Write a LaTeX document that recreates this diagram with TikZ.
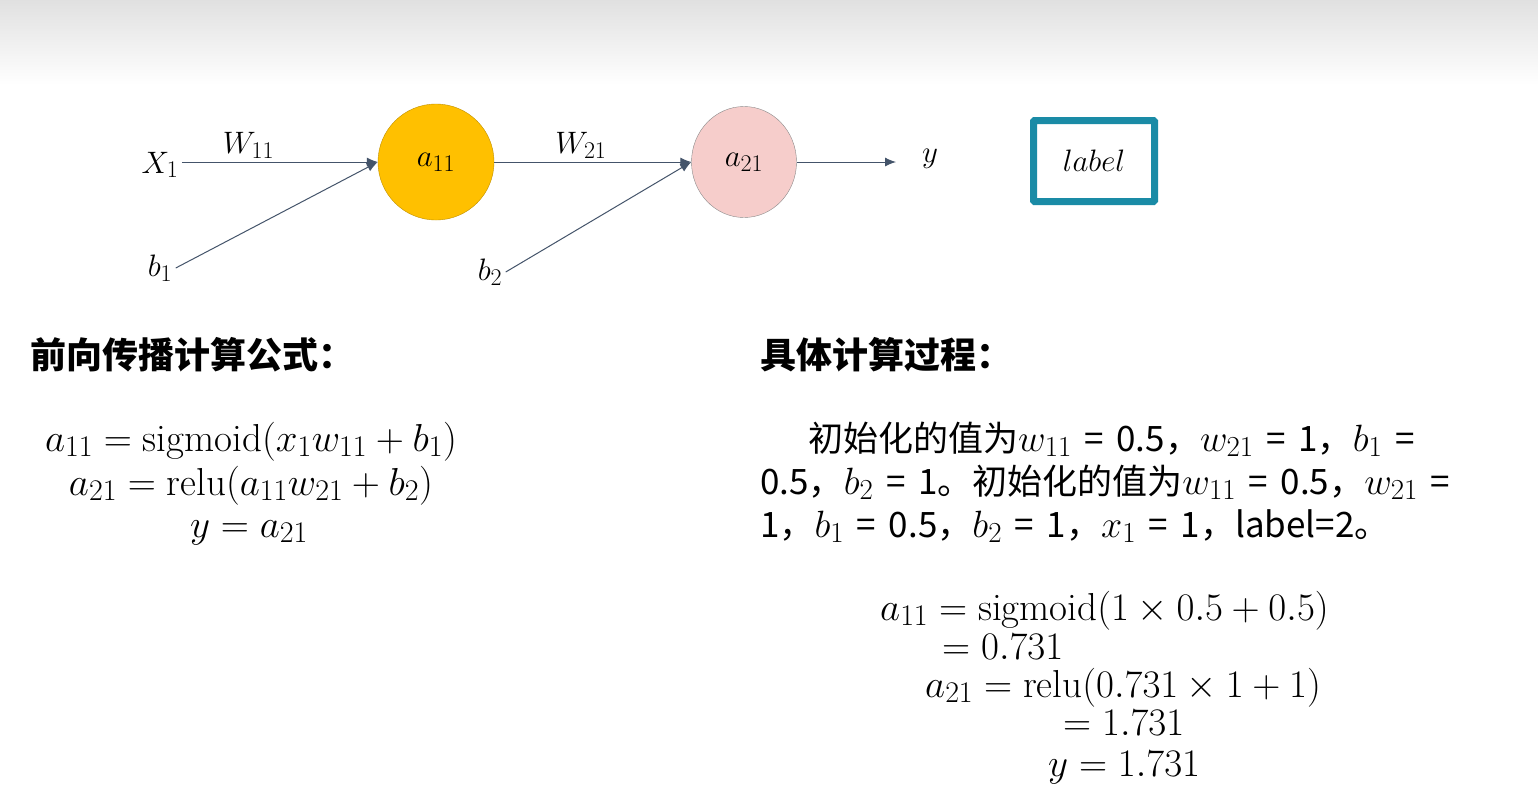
\RequirePackage{fix-cm}
\documentclass[tikz,border=0pt]{standalone}
\usepackage{fontspec}
\usepackage{amsmath}
\usepackage{tikz}
\usetikzlibrary{arrows.meta,shapes.geometric}
\newfontfamily\cjk{Noto Sans CJK SC}
\DeclareMathSizes{39}{39}{30}{22}
\DeclareMathSizes{35}{38}{29}{21}
\DeclareMathSizes{31}{31}{24}{18}
\newcommand\eqsign{\hspace{.36em}=\hspace{.36em}}

\definecolor{linkgray}{HTML}{44546A}
\definecolor{goldA}{HTML}{FFC000}
\definecolor{pinkB}{HTML}{F6CDCB}
\definecolor{tealbox}{HTML}{1A8BA6}

\begin{document}
\begin{tikzpicture}[x=1pt,y=-1pt,
    link/.style={draw=linkgray, line width=1pt, -{Latex[length=11pt,width=9pt]}},
    math/.style={font=\fontsize{39}{42}\selectfont, inner sep=0pt, anchor=base west},
    body/.style={font=\cjk\fontsize{35}{40}\selectfont, inner sep=0pt, anchor=base west}]

        \useasboundingbox (0,0) rectangle (1538,796);
        \fill[white] (0,0) rectangle (1538,796);
        \shade[top color=black!12, bottom color=white] (0,0) rectangle (1538,85);

        % network
        \begin{scope}[every node/.style={font=\fontsize{31}{36}\selectfont}]
          \node[circle, fill=goldA, draw=goldA!75!black, minimum size=116pt] (a11) at (436,162) {$a_{11}$};
          \node[ellipse, fill=pinkB, draw=black!45, minimum width=105pt, minimum height=111pt] (a21) at (744,162) {$a_{21}$};
          \node (x1) at (160,165) {$X_1$};
          \node (b1) at (160,268) {$b_1$};
          \node (b2) at (490,272) {$b_2$};
          \node (y)  at (930,159) {$y$};
          \node[draw=tealbox, line width=7pt, rounded corners=1pt, minimum width=121pt, minimum height=81pt] (lbl) at (1094,161) {$label$};
          \coordinate (yin) at (896,162);
        \end{scope}

        \begin{scope}[every node/.style={font=\fontsize{31}{36}\selectfont, above}]
          \draw[link] (x1.east |- a11) -- node[pos=0.34] {$W_{11}$} (a11);
          \draw[link] (a11) -- node[pos=0.44] {$W_{21}$} (a21);
          \draw[link] (b1.east) -- (a11.west);
          \draw[link] (b2.east) -- (a21.west);
          \draw[link] (a21) -- (yin);
        \end{scope}

        % headings
        \begin{scope}[every node/.style={font=\cjk\bfseries\fontsize{36}{40}\selectfont, anchor=west, inner sep=0pt}]
          \node (h1) at (30,355) {前向传播计算公式：};
          \node (h2) at (760,355) {具体计算过程：};
        \end{scope}

        % formulas
        \begin{scope}[every node/.style={font=\fontsize{39}{42}\selectfont, inner sep=0pt, anchor=base}]
          \node (f1) at (251,451) {$a_{11} = \mathrm{sigmoid}(x_1 w_{11} + b_1)$};
          \node (f2) at (251,495) {$a_{21} = \mathrm{relu}(a_{11} w_{21} + b_2)$};
          \node (f3) at (249,537) {$y = a_{21}$};
        \end{scope}

        % initial values
        \node[body] (p1) at (808,451) {初始化的值为$w_{11}$\eqsign 0.5，$w_{21}$\eqsign 1，$b_1$\eqsign};
        \node[body] (p2) at (760,494) {0.5，$b_2$\eqsign 1。初始化的值为$w_{11}$\eqsign 0.5，$w_{21}$\eqsign};
        \node[body] (p3) at (760,537) {1，$b_1$\eqsign 0.5，$b_2$\eqsign 1，$x_1$\eqsign 1，label=2。};

        % calculation
        \node[math] (c1) at (880,620) {$a_{11} = \mathrm{sigmoid}(1 \times 0.5 + 0.5)$};
        \node[math] (c2) at (942,659) {$= 0.731$};
        \node[math] (c3) at (925,697) {$a_{21} = \mathrm{relu}(0.731 \times 1 + 1)$};
        \node[math] (c4) at (1063,735) {$= 1.731$};
        \node[math] (c5) at (1048,776) {$y = 1.731$};

      \end{tikzpicture}
\end{document}
